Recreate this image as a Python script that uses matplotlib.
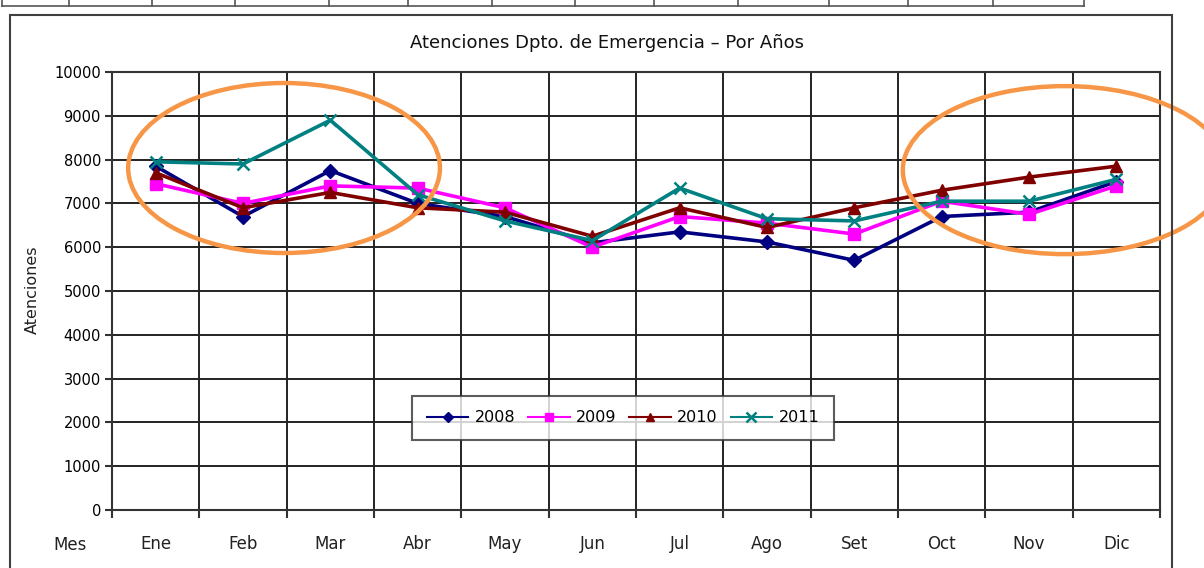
import matplotlib
matplotlib.use("Agg")
import matplotlib.pyplot as plt
from matplotlib.patches import Ellipse, Rectangle
from matplotlib.lines import Line2D
import numpy as np

months = ['Ene', 'Feb', 'Mar', 'Abr', 'May', 'Jun', 'Jul', 'Ago', 'Set', 'Oct', 'Nov', 'Dic']
s2008 = [7850, 6700, 7750, 7000, 6700, 6100, 6350, 6120, 5700, 6700, 6800, 7500]
s2009 = [7450, 7000, 7400, 7350, 6900, 6000, 6700, 6550, 6300, 7050, 6750, 7400]
s2010 = [7700, 6900, 7250, 6900, 6800, 6250, 6900, 6450, 6900, 7300, 7600, 7850]
s2011 = [7950, 7900, 8900, 7200, 6600, 6150, 7350, 6650, 6600, 7050, 7050, 7550]
series_labels = ['2008', '2009', '2010', '2011']
yticks = list(range(0, 10001, 1000))
title = 'Atenciones Dpto. de Emergencia – Por Años'
ylabel = 'Atenciones'
first_col_label = 'Mes'

W, H = 1204, 568
fig = plt.figure(figsize=(W / 100, H / 100), dpi=100)
fig.patch.set_facecolor('white')

# chart frame
fig.patches.append(Rectangle((10 / W, -0.02), 1162 / W, 1.02 - 15 / H, transform=fig.transFigure,
                             fill=False, edgecolor='#404040', linewidth=1.5))
# top table fragment
tbl_y = 1 - 6 / H
fig.lines.append(Line2D([2 / W, 1084 / W], [tbl_y, tbl_y], transform=fig.transFigure, color='#555555', lw=1.2))
for px in [2, 69, 152, 235, 329, 408, 492, 575, 654, 738, 829, 908, 993, 1084]:
    fig.lines.append(Line2D([px / W, px / W], [tbl_y, 1.0], transform=fig.transFigure, color='#555555', lw=1.2))

ax = fig.add_axes([112 / W, 1 - 510 / H, (1160 - 112) / W, (510 - 72) / H])
x = np.arange(len(months))
styles = [
    dict(color='#000080', marker='D', ms=7),
    dict(color='#FF00FF', marker='s', ms=8),
    dict(color='#800000', marker='^', ms=8),
    dict(color='#008080', marker='x', ms=9, mew=1.8),
]
for vals, lab, st in zip([s2008, s2009, s2010, s2011], series_labels, styles):
    ax.plot(x, vals, label=lab, lw=2.6, zorder=3, **st)

ax.set_xlim(-0.5, len(months) - 0.5)
ax.set_ylim(0, 10000)
ax.set_yticks(yticks)
ax.set_yticklabels([str(v) for v in yticks], fontsize=10.5)
ax.set_xticks(np.arange(-0.5, len(months), 1.0))
ax.set_xticklabels([])
ax.set_xticks(x, minor=True)
ax.set_xticklabels(months, minor=True, fontsize=12, color='#222222')
ax.tick_params(axis='x', which='minor', length=0, pad=18)
ax.tick_params(axis='x', which='major', length=6, width=1.5, color='#333333')
ax.tick_params(axis='y', length=5, width=1.5, color='#333333', pad=3)
ax.grid(True, which='major', color='#222222', lw=1.4)
ax.set_axisbelow(True)
for sp in ax.spines.values():
    sp.set_color('#333333')
    sp.set_linewidth(1.5)

ax.text(-0.98, -(545 - 510) / (510 - 72), first_col_label, transform=ax.get_xaxis_transform(),
        ha='center', va='center', fontsize=12, color='#222222')
fig.text(32 / W, 1 - 290 / H, ylabel, rotation=90, ha='center', va='center', fontsize=11.5, color='#222222')
fig.text(607 / W, 1 - 43 / H, title, ha='center', va='center', fontsize=13,
         family=['Liberation Sans Narrow', 'DejaVu Sans'], color='#111111')

leg = ax.legend(loc='center', bbox_to_anchor=((623 - 112) / (1160 - 112), (510 - 418) / (510 - 72)),
                ncol=4, fontsize=11.5, frameon=True, fancybox=False, edgecolor='#333333',
                handlelength=2.6, columnspacing=0.8, handletextpad=0.4, borderpad=0.9, markerscale=0.75)
leg.get_frame().set_linewidth(1.5)
for h in leg.get_lines():
    h.set_linewidth(1.5)

# orange annotation ellipses
ax.add_patch(Ellipse((1.47, 7808), 3.57, 3881, fill=False, edgecolor='#F79646', lw=3.2, clip_on=False, zorder=5))
ax.add_patch(Ellipse((10.41, 7760), 3.71, 3836, fill=False, edgecolor='#F79646', lw=3.2, clip_on=False, zorder=5))

fig.savefig('out.png', dpi=100)
